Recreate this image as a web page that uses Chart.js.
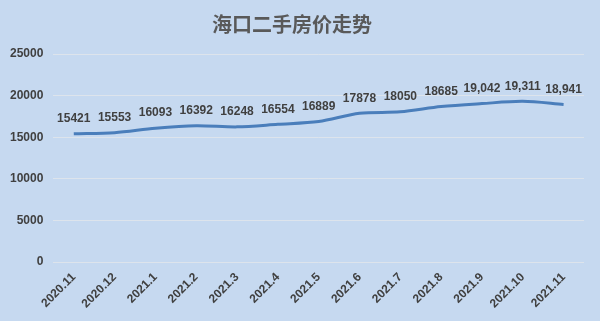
<!DOCTYPE html>
<html>
<head>
<meta charset="utf-8">
<script src="https://cdn.jsdelivr.net/npm/chart.js@4"></script>
<style>
  html, body { margin: 0; padding: 0; background: #c6d9f0; }
  #wrap { width: 600px; height: 321px; }
</style>
</head>
<body>
<div id="wrap"><canvas id="price"></canvas></div>
<script>
// months and second-hand prices (yuan / m2)
var months = ["2020.11", "2020.12", "2021.1", "2021.2", "2021.3", "2021.4", "2021.5",
              "2021.6", "2021.7", "2021.8", "2021.9", "2021.10", "2021.11"];
var prices = [15421, 15553, 16093, 16392, 16248, 16554, 16889, 17878, 18050, 18685, 19042, 19311, 18941];
var priceLabels = ["15421", "15553", "16093", "16392", "16248", "16554", "16889",
                   "17878", "18050", "18685", "19,042", "19,311", "18,941"];
var yTicks = [0, 5000, 10000, 15000, 20000, 25000];

// draws the value text above every point
var valueLabels = {
    id: 'valueLabels',
    afterDatasetsDraw: function(chart) {
        var c = chart.ctx;
        var meta = chart.getDatasetMeta(0);
        c.save();
        c.font = 'bold 12px "Liberation Sans", Arial, sans-serif';
        c.fillStyle = '#404040';
        c.textAlign = 'center';
        c.textBaseline = 'bottom';
        meta.data.forEach(function(pt, i) {
            c.fillText(priceLabels[i], pt.x, pt.y - 9);
        });
        c.restore();
    }
};

var ctx = document.getElementById("price").getContext('2d');
var chart = new Chart(ctx, {
    type: 'line',
    data: {
        labels: months,
        datasets: [{
            data: prices,
            borderColor: '#4a7ebb',
            borderWidth: 3,
            pointRadius: 0,
            tension: 0.3,
            fill: false
        }]
    },
    options: {
        responsive: true,
        maintainAspectRatio: false,
        animation: false,
        layout: { padding: { left: 0, right: 16, top: 10, bottom: 2 } },
        plugins: {
            legend: { display: false },
            tooltip: { enabled: false },
            title: {
                display: true,
                text: '海口二手房价走势',
                color: '#595959',
                font: { size: 20, family: '"Noto Sans CJK SC", sans-serif', weight: 'bold' },
                padding: { top: 2, bottom: 18 }
            }
        },
        scales: {
            x: {
                offset: true,
                grid: { display: false, drawTicks: false },
                border: { display: false },
                ticks: {
                    color: '#404040',
                    font: { size: 12, weight: 'bold', family: '"Liberation Sans", Arial, sans-serif' },
                    maxRotation: 45,
                    minRotation: 45,
                    padding: 8
                }
            },
            y: {
                min: 0,
                max: 25000,
                afterBuildTicks: function(axis) {
                    axis.ticks = yTicks.map(function(v) { return { value: v }; });
                },
                grid: { color: '#dde4ec', lineWidth: 1, drawTicks: false },
                border: { display: false },
                ticks: {
                    color: '#404040',
                    font: { size: 12, weight: 'bold', family: '"Liberation Sans", Arial, sans-serif' },
                    padding: 10,
                    callback: function(v) { return String(v); }
                }
            }
        }
    },
    plugins: [valueLabels]
});
</script>
</body>
</html>
